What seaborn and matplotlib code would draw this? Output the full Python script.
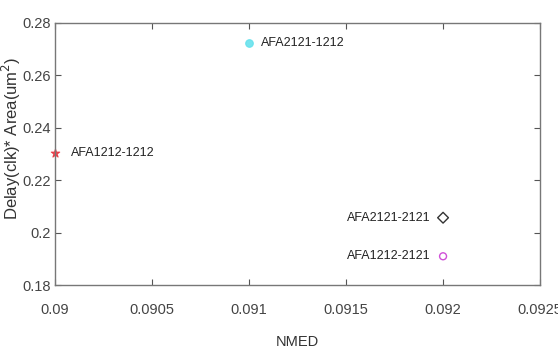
import matplotlib
matplotlib.use("Agg")
import matplotlib.pyplot as plt
import seaborn as sns
import pandas as pd

names = ["AFA1212-1212", "AFA2121-1212", "AFA2121-2121", "AFA1212-2121"]
nmed = [0.0900, 0.0910, 0.0920, 0.0920]
delay_area = [0.2305, 0.2725, 0.2057, 0.1910]
markers = ["*", "o", "D", "o"]
colors = ["#e8303a", "#5fe0ec", "#333333", "#d050d8"]
filled = [True, True, False, False]
label_side = ["right", "right", "left", "left"]

xticks = [0.09, 0.0905, 0.091, 0.0915, 0.092, 0.0925]
xticklabels = ["0.09", "0.0905", "0.091", "0.0915", "0.092", "0.0925"]
yticks = [0.18, 0.20, 0.22, 0.24, 0.26, 0.28]
yticklabels = ["0.18", "0.2", "0.22", "0.24", "0.26", "0.28"]

df = pd.DataFrame({"name": names, "NMED": nmed, "val": delay_area})

sns.set_theme(style="white")
plt.rcParams["font.family"] = ["Liberation Sans", "DejaVu Sans"]

fig = plt.figure(figsize=(5.58, 3.52), dpi=100)
ax = fig.add_axes([0.098, 0.19, 0.870, 0.745])

for i, row in df.iterrows():
    sub = df.iloc[[i]]
    if filled[i]:
        sns.scatterplot(data=sub, x="NMED", y="val", marker=markers[i],
                        color=colors[i], s=40 if markers[i] == "*" else 30,
                        edgecolor=colors[i], linewidth=0.8, ax=ax, legend=False,
                        alpha=0.85, clip_on=False)
    else:
        sns.scatterplot(data=sub, x="NMED", y="val", marker=markers[i],
                        facecolors="none", edgecolor=colors[i],
                        s=30 if markers[i] == "D" else 25,
                        linewidth=1.0, ax=ax, legend=False)
    if label_side[i] == "right":
        off = (12 if i == 0 else 9, 0)
        ha = "left"
    else:
        off = (-9, 0)
        ha = "right"
    ax.annotate(row["name"], (row["NMED"], row["val"]), xytext=off,
                textcoords="offset points", ha=ha, va="center",
                fontsize=9, color="#222222")

ax.set_xlim(0.09, 0.0925)
ax.set_ylim(0.18, 0.28)
ax.set_xticks(xticks)
ax.set_xticklabels(xticklabels)
ax.set_yticks(yticks)
ax.set_yticklabels(yticklabels)
ax.tick_params(direction="in", length=4, width=0.8, color="#555555",
               labelsize=10.5, labelcolor="#444444", top=True, right=True,
               bottom=True, left=True, labeltop=False, labelright=False)
ax.tick_params(axis="x", pad=13)
ax.tick_params(axis="y", pad=3)
for s in ax.spines.values():
    s.set_visible(True)
    s.set_color("#777777")
    s.set_linewidth(1.0)
ax.set_xlabel("NMED", fontsize=10.5, color="#333333")
ax.xaxis.set_label_coords(0.5, -0.19)
ax.set_ylabel("Delay(clk)* Area(um$^2$)", fontsize=12, color="#333333")
ax.yaxis.set_label_coords(-0.066, 0.56)

fig.savefig("out.png", dpi=100)
